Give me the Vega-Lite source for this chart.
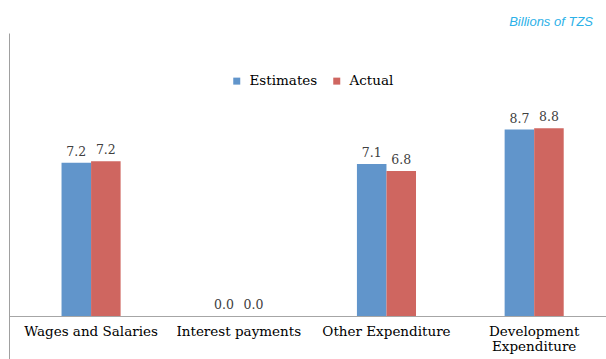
{
  "$schema": "https://vega.github.io/schema/vega-lite/v6.json",
  "width": 597,
  "height": 326,
  "autosize": {"type": "none"},
  "padding": {"left": 9, "top": 33, "right": 0, "bottom": 0},
  "background": "#ffffff",
  "title": {
    "text": "Billions of TZS",
    "anchor": "end",
    "frame": "group",
    "font": "Liberation Sans",
    "fontStyle": "italic",
    "fontWeight": "normal",
    "fontSize": 13,
    "color": "#2cb1e8",
    "offset": 4,
    "dx": -13
  },
  "data": {
    "values": [
      {"category": "Wages and Salaries", "series": "Estimates", "value": 7.17},
      {"category": "Wages and Salaries", "series": "Actual", "value": 7.24},
      {"category": "Interest payments", "series": "Estimates", "value": 0.0},
      {"category": "Interest payments", "series": "Actual", "value": 0.0},
      {"category": "Other Expenditure", "series": "Estimates", "value": 7.12},
      {"category": "Other Expenditure", "series": "Actual", "value": 6.79},
      {"category": "Development Expenditure", "series": "Estimates", "value": 8.73},
      {"category": "Development Expenditure", "series": "Actual", "value": 8.79}
    ]
  },
  "encoding": {
    "x": {
      "field": "category",
      "type": "nominal",
      "sort": ["Wages and Salaries", "Interest payments", "Other Expenditure", "Development Expenditure"],
      "scale": {"paddingInner": 0.6, "paddingOuter": 0.321, "align": 0.554},
      "axis": {
        "title": null,
        "orient": "bottom",
        "offset": -43,
        "domainColor": "#a6a6a6",
        "domainWidth": 1,
        "ticks": false,
        "tickSize": 0,
        "labelPadding": 8,
        "labelFont": "DejaVu Serif",
        "labelFontSize": 13.5,
        "labelColor": "#000000",
        "labelAngle": 0,
        "labelLimit": 0,
        "labelOverlap": false,
        "labelBaseline": "top",
        "labelLineHeight": 15,
        "labelExpr": "datum.value == 'Development Expenditure' ? ['Development', 'Expenditure'] : datum.value"
      }
    },
    "xOffset": {"field": "series", "type": "nominal", "sort": ["Estimates", "Actual"]},
    "y": {
      "field": "value",
      "type": "quantitative",
      "scale": {"domain": [-2.013, 13.25], "nice": false, "zero": false},
      "axis": {
        "title": null,
        "labels": false,
        "ticks": false,
        "grid": false,
        "domain": true,
        "domainColor": "#a0a0a0",
        "domainWidth": 1
      }
    }
  },
  "layer": [
    {
      "mark": {"type": "bar"},
      "encoding": {
        "color": {
          "field": "series",
          "type": "nominal",
          "scale": {"domain": ["Estimates", "Actual"], "range": ["#6195cb", "#cf6660"]},
          "legend": {
            "orient": "none",
            "legendX": 221,
            "legendY": 41,
            "direction": "horizontal",
            "title": null,
            "symbolType": "square",
            "symbolSize": 49,
            "symbolStrokeWidth": 0,
            "labelFont": "DejaVu Serif",
            "labelFontSize": 13.5,
            "labelColor": "#000000",
            "labelOffset": 6,
            "columnPadding": 12
          }
        }
      }
    },
    {
      "mark": {"type": "text", "baseline": "bottom", "dy": -4, "font": "DejaVu Serif", "fontSize": 12.5, "color": "#404040"},
      "encoding": {
        "text": {"field": "value", "type": "quantitative", "format": ".1f"}
      }
    },
    {
      "data": {"values": [{}]},
      "mark": {"type": "rule", "color": "#d9d9d9", "strokeWidth": 2},
      "encoding": {
        "x": null,
        "xOffset": null,
        "y": {"datum": 13.25}
      }
    }
  ],
  "config": {
    "view": {"stroke": null}
  }
}
